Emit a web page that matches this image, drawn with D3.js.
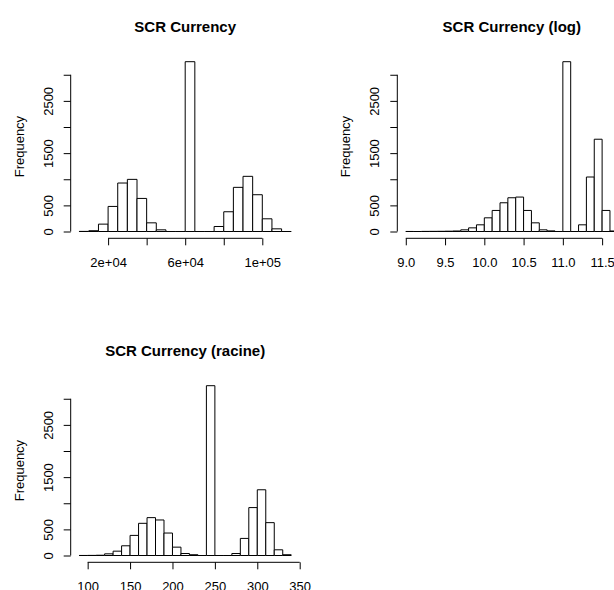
<!DOCTYPE html>
<html>
<head>
<meta charset="utf-8">
<script src="https://cdn.jsdelivr.net/npm/d3@7"></script>
<style>
  html, body { margin: 0; padding: 0; background: #fff; }
  svg { display: block; }
  text { font-family: "Liberation Sans", Arial, sans-serif; fill: #000; }
</style>
</head>
<body>
<svg id="chart" width="614" height="590"></svg>
<script>
// ---- Histogram of raw SCR currency values (bins of 5000) ----
const rawBinStarts = [5000, 10000, 15000, 20000, 25000, 30000, 35000, 40000, 45000, 50000, 55000,
                      60000, 65000, 70000, 75000, 80000, 85000, 90000, 95000, 100000, 105000, 110000];
const rawBinWidth = 5000;
const rawCounts = [2, 15, 141, 480, 928, 998, 633, 166, 32, 0, 0,
                   3250, 0, 0, 96, 378, 845, 1056, 704, 243, 51, 0];
const rawXTicks = [20000, 40000, 60000, 80000, 100000];
const rawXLabels = ["2e+04", "", "6e+04", "", "1e+05"];

// ---- Histogram of log values (bins of 0.1) ----
const logBinStarts = [9.0, 9.1, 9.2, 9.3, 9.4, 9.5, 9.6, 9.7, 9.8, 9.9, 10.0, 10.1, 10.2, 10.3,
                      10.4, 10.5, 10.6, 10.7, 10.8, 10.9, 11.0, 11.1, 11.2, 11.3, 11.4, 11.5, 11.6];
const logBinWidth = 0.1;
const logCounts = [1, 0, 2, 3, 4, 6, 10, 32, 70, 128, 262, 403, 550, 646,
                   659, 403, 166, 32, 12, 0, 3250, 0, 128, 1043, 1766, 403, 10];
const logXTicks = [9.0, 9.5, 10.0, 10.5, 11.0, 11.5];
const logXLabels = ["9.0", "9.5", "10.0", "10.5", "11.0", "11.5"];

// ---- Histogram of square-root values (bins of 10) ----
const sqrtBinStarts = [90, 100, 110, 120, 130, 140, 150, 160, 170, 180, 190, 200, 210,
                       220, 230, 240, 250, 260, 270, 280, 290, 300, 310, 320, 330];
const sqrtBinWidth = 10;
const sqrtCounts = [1, 2, 5, 32, 83, 186, 385, 616, 725, 680, 430, 160, 38,
                    15, 0, 3250, 0, 0, 38, 327, 917, 1258, 629, 109, 15];
const sqrtXTicks = [100, 150, 200, 250, 300, 350];
const sqrtXLabels = ["100", "150", "200", "250", "300", "350"];

// ---- Shared frequency axis ----
const freqTicks = [0, 500, 1000, 1500, 2000, 2500, 3000];
const freqLabels = ["0", "500", "", "1500", "", "2500", ""];

const svg = d3.select("#chart");

const panels = [
  { title: "SCR Currency", starts: rawBinStarts, width: rawBinWidth, counts: rawCounts,
    xTicks: rawXTicks, xLabels: rawXLabels, left: 70.7, top: 0 },
  { title: "SCR Currency (log)", starts: logBinStarts, width: logBinWidth, counts: logCounts,
    xTicks: logXTicks, xLabels: logXLabels, left: 397.3, top: 0 },
  { title: "SCR Currency (racine)", starts: sqrtBinStarts, width: sqrtBinWidth, counts: sqrtCounts,
    xTicks: sqrtXTicks, xLabels: sqrtXLabels, left: 70.7, top: 324 }
];

const plotW = 229;
const plotTop = 54.9, plotBottom = 238.3;

panels.forEach(p => {
  const g = svg.append("g").attr("transform", `translate(0,${p.top})`);

  // plotting region padded by 4% on each side of the data range
  const lo = p.starts[0];
  const hi = p.starts[p.starts.length - 1] + p.width;
  const padX = 0.04 * (hi - lo);
  const x = d3.scaleLinear().domain([lo - padX, hi + padX]).range([p.left, p.left + plotW]);
  const maxC = d3.max(p.counts);
  const y = d3.scaleLinear().domain([-0.04 * maxC, 1.04 * maxC]).range([plotBottom, plotTop]);

  const bins = p.starts.map((s, i) => ({ x0: s, x1: s + p.width, n: p.counts[i] }));

  // bars as closed outlines, so empty bins still show as a flat line
  g.append("g").selectAll("path").data(bins).join("path")
    .attr("d", d => {
      const p0 = d3.path();
      p0.moveTo(x(d.x0), y(0));
      p0.lineTo(x(d.x0), y(d.n));
      p0.lineTo(x(d.x1), y(d.n));
      p0.lineTo(x(d.x1), y(0));
      p0.closePath();
      return p0.toString();
    })
    .attr("fill", "#fff")
    .attr("stroke", "#000")
    .attr("stroke-width", 1);

  // x axis: line spans first to last tick only
  const xAxis = d3.axisBottom(x)
    .tickValues(p.xTicks)
    .tickFormat((d, i) => p.xLabels[i])
    .tickSize(7)
    .tickPadding(12);
  const gx = g.append("g").attr("transform", `translate(0,${plotBottom})`).call(xAxis);
  gx.select(".domain").remove();
  gx.append("line")
    .attr("x1", x(p.xTicks[0])).attr("x2", x(p.xTicks[p.xTicks.length - 1]))
    .attr("y1", 0).attr("y2", 0).attr("stroke", "#000");
  gx.selectAll(".tick line").attr("stroke", "#000");
  gx.selectAll(".tick text")
    .attr("font-size", 13)
    .attr("font-family", "Liberation Sans, Arial, sans-serif")
    .attr("fill", "#000");

  // y axis with rotated labels
  const yAxis = d3.axisLeft(y)
    .tickValues(freqTicks)
    .tickFormat((d, i) => freqLabels[i])
    .tickSize(7)
    .tickPadding(0);
  const gy = g.append("g").attr("transform", `translate(${p.left},0)`).call(yAxis);
  gy.select(".domain").remove();
  gy.append("line")
    .attr("x1", 0).attr("x2", 0)
    .attr("y1", y(freqTicks[0])).attr("y2", y(freqTicks[freqTicks.length - 1]))
    .attr("stroke", "#000");
  gy.selectAll(".tick line").attr("stroke", "#000");
  gy.selectAll(".tick text")
    .attr("x", null).attr("dy", null)
    .attr("transform", "translate(-18,0) rotate(-90)")
    .attr("text-anchor", "middle")
    .attr("font-size", 13)
    .attr("font-family", "Liberation Sans, Arial, sans-serif")
    .attr("fill", "#000");

  // axis title
  g.append("text")
    .attr("transform", `translate(${p.left - 47},${(plotTop + plotBottom) / 2}) rotate(-90)`)
    .attr("text-anchor", "middle")
    .attr("font-size", 13)
    .text("Frequency");

  // panel title
  g.append("text")
    .attr("x", p.left + plotW / 2)
    .attr("y", 31.5)
    .attr("text-anchor", "middle")
    .attr("font-size", 15)
    .attr("font-weight", "bold")
    .text(p.title);
});
</script>
</body>
</html>
